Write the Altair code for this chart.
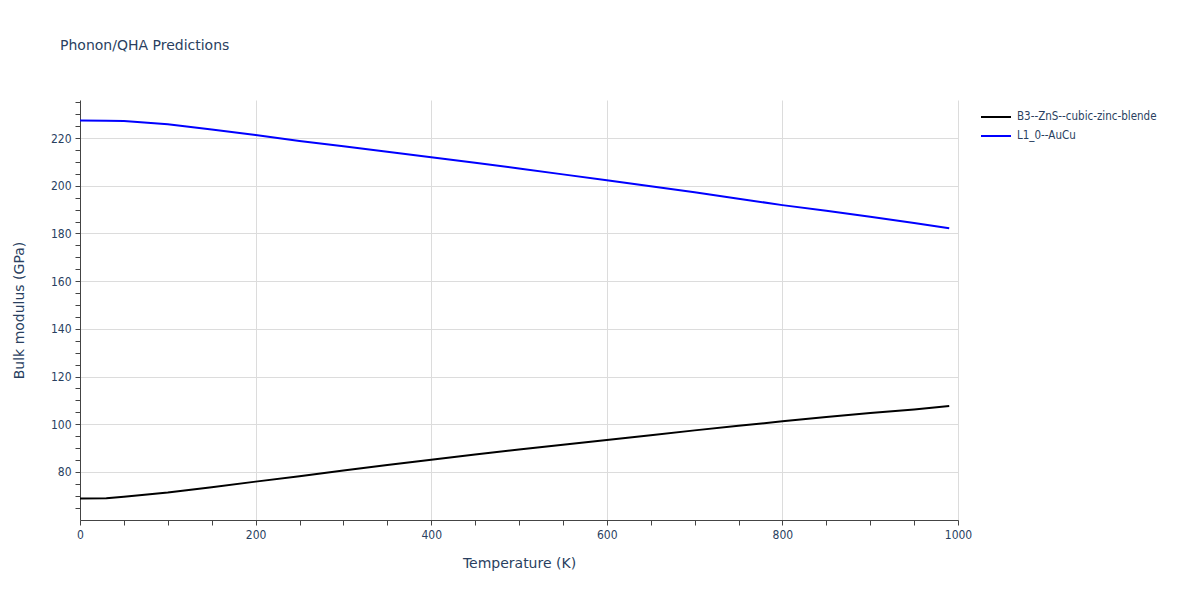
import altair as alt
import pandas as pd

temps = [0, 30, 50, 100, 150, 200, 250, 300, 350, 400, 450, 500, 550, 600,
         650, 700, 750, 800, 850, 900, 950, 990]
zns = [68.8, 68.9, 69.6, 71.3, 73.5, 75.9, 78.2, 80.6, 82.9, 85.1, 87.3, 89.4,
       91.4, 93.4, 95.4, 97.4, 99.3, 101.2, 103.0, 104.7, 106.2, 107.6]
aucu = [227.4, 227.3, 227.2, 225.8, 223.6, 221.3, 218.8, 216.6, 214.3, 212.0,
        209.7, 207.3, 204.8, 202.3, 199.8, 197.3, 194.6, 191.9, 189.5, 187.0,
        184.4, 182.2]
series = ["B3--ZnS--cubic-zinc-blende", "L1_0--AuCu"]
colors = ["#000000", "#0000ff"]

rows = []
for t, a, b in zip(temps, zns, aucu):
    rows.append({"T": t, "B": a, "s": series[0]})
    rows.append({"T": t, "B": b, "s": series[1]})
df = pd.DataFrame(rows)

txt = "#2a3f5f"
font = "DejaVu Sans Condensed"
tfont = "DejaVu Sans"

chart = alt.Chart(df).mark_line(strokeWidth=2, clip=True).encode(
    x=alt.X("T:Q", title="Temperature (K)",
            scale=alt.Scale(domain=[0, 1000], nice=False, zero=False),
            axis=alt.Axis(values=list(range(0, 1001, 50)), format="d",
                          labelExpr="datum.value % 200 == 0 ? datum.label : ''",
                          gridOpacity={"condition": {"test": "datum.value % 200 == 0", "value": 1}, "value": 0},
                          labelFlush=False, labelOverlap=False,
                          tickSize=5, tickColor="#444", domainColor="#444",
                          gridColor="#dcdcdc", labelColor=txt, titleColor=txt,
                          labelFont=font, titleFont=tfont, labelFontSize=12,
                          titleFontSize=14, titleFontWeight="normal",
                          labelPadding=4, titlePadding=16)),
    y=alt.Y("B:Q", title="Bulk modulus (GPa)",
            scale=alt.Scale(domain=[59.8, 236], nice=False, zero=False),
            axis=alt.Axis(values=list(range(65, 236, 5)),
                          labelExpr="datum.value % 20 == 0 ? datum.label : ''",
                          gridOpacity={"condition": {"test": "datum.value % 20 == 0", "value": 1}, "value": 0},
                          labelFlush=False, labelOverlap=False,
                          tickSize=5, tickColor="#444", domainColor="#444",
                          gridColor="#dcdcdc", labelColor=txt, titleColor=txt,
                          labelFont=font, titleFont=tfont, labelFontSize=12,
                          titleFontSize=14, titleFontWeight="normal",
                          labelPadding=4, titlePadding=24)),
    color=alt.Color("s:N", title=None,
                    scale=alt.Scale(domain=series, range=colors),
                    legend=alt.Legend(orient="none", legendX=900, legendY=7.5,
                                      symbolType="stroke", symbolSize=900,
                                      symbolStrokeWidth=2, labelFont=font,
                                      labelFontSize=11.5, labelColor=txt,
                                      labelOffset=5, rowPadding=0,
                                      clipHeight=19, labelLimit=400)),
).properties(
    width=878, height=420,
    title=alt.TitleParams("Phonon/QHA Predictions", anchor="start", frame="group",
                          dx=-20, offset=43, font=tfont, fontSize=14,
                          fontWeight="normal", color=txt),
    autosize=alt.AutoSizeParams(type="none"),
    padding={"left": 72, "top": 92, "right": 210, "bottom": 72},
).configure_view(stroke=None)

chart.save("out.html", embed_options={"renderer": "svg", "actions": False})
